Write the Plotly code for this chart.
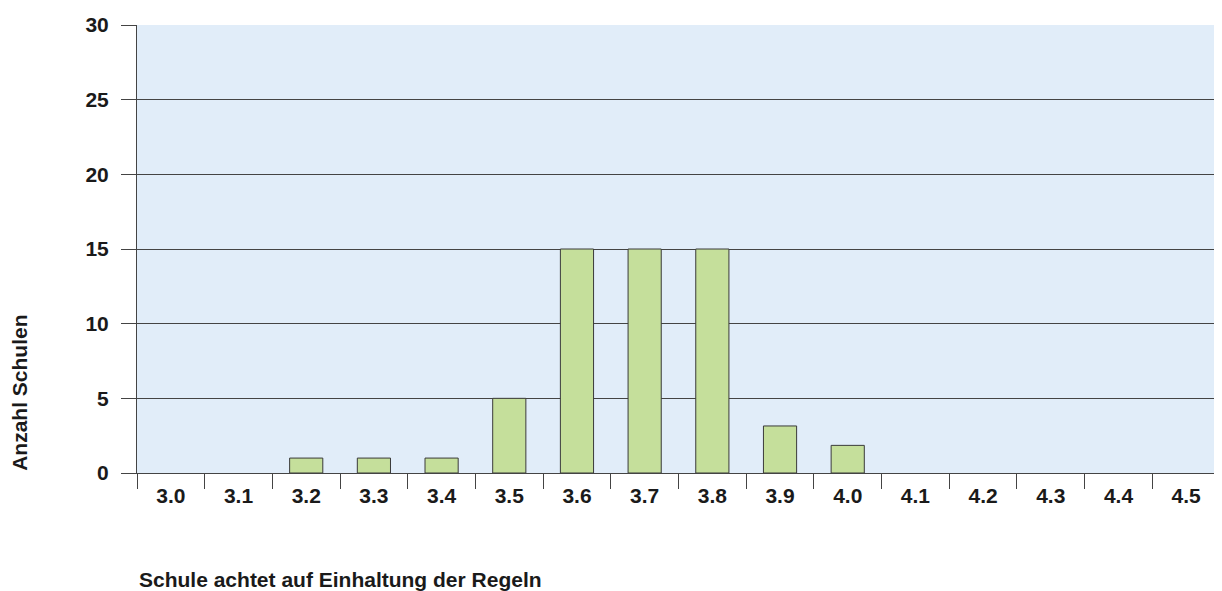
import plotly.graph_objects as go

kategorien = ["3.0", "3.1", "3.2", "3.3", "3.4", "3.5", "3.6", "3.7",
              "3.8", "3.9", "4.0", "4.1", "4.2", "4.3", "4.4", "4.5"]
anzahl = [0, 0, 1, 1, 1, 5, 15, 15, 15, 3.15, 1.85, 0, 0, 0, 0, 0]
y_ticks = [0, 5, 10, 15, 20, 25, 30]

# leere Kategorien ohne Balkenrahmen zeichnen
balken = [v if v > 0 else None for v in anzahl]

FONT = "Liberation Sans, Arial, Helvetica, sans-serif"
tickfont = dict(family=FONT, size=21, color="#1a1a1a", weight="bold")

fig = go.Figure(
    data=[
        go.Bar(
            x=kategorien,
            y=balken,
            width=0.49,
            marker=dict(color="#c5df9b", line=dict(color="#3a3a3a", width=1)),
        )
    ]
)

# Seite hat 8px Rand im Body, daher Breite/Höhe und Ränder verkleinert
fig.update_layout(
    width=1214,
    height=583,
    margin=dict(l=129, r=2, t=17, b=118, autoexpand=False),
    paper_bgcolor="white",
    plot_bgcolor="#e1edf9",
    showlegend=False,
    font=dict(family=FONT, size=21, color="#1a1a1a"),
    xaxis=dict(
        type="category",
        range=[-0.5, 15.5],
        tickson="boundaries",
        ticks="outside",
        ticklen=15,
        tickcolor="#444444",
        tickwidth=1,
        showgrid=False,
        showline=True,
        linecolor="#444444",
        linewidth=1,
        ticklabelstandoff=4,
        tickfont=tickfont,
    ),
    yaxis=dict(
        range=[0, 30],
        tickvals=y_ticks,
        ticks="outside",
        ticklen=15,
        tickcolor="#444444",
        showgrid=True,
        gridcolor="#444444",
        gridwidth=1,
        zeroline=False,
        showline=True,
        linecolor="#444444",
        linewidth=1,
        ticklabelstandoff=8,
        tickfont=tickfont,
    ),
    annotations=[
        dict(
            text="<b>Schule achtet auf Einhaltung der Regeln</b>",
            xref="paper", yref="paper",
            x=0, y=-0.237,
            xanchor="left", yanchor="middle",
            showarrow=False,
            font=dict(family=FONT, size=21, color="#1a1a1a"),
        ),
        dict(
            text="<b>Anzahl Schulen</b>",
            xref="paper", yref="paper",
            x=-0.108, y=0.179,
            xanchor="center", yanchor="middle",
            textangle=-90,
            showarrow=False,
            font=dict(family=FONT, size=21, color="#1a1a1a"),
        ),
    ],
)

fig.write_html("out.html")
